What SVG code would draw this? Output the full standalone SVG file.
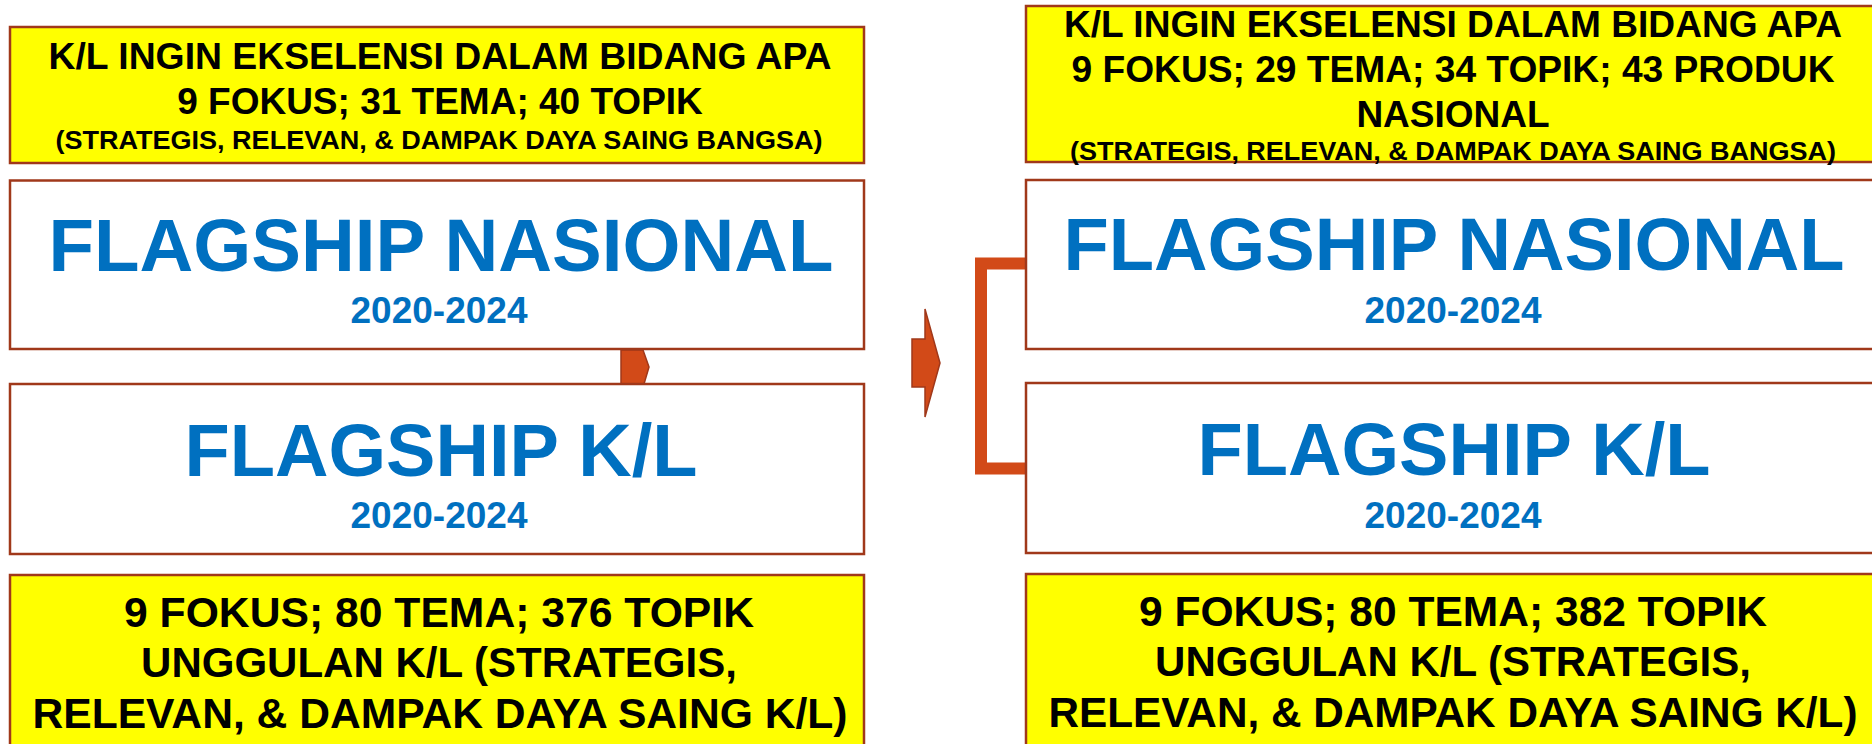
<svg xmlns="http://www.w3.org/2000/svg" width="1872" height="744" viewBox="0 0 1872 744">
  <defs>
    <style>
      .box { stroke: #A0381A; stroke-width: 2.5; }
      .yellow { fill: #FFFF00; }
      .white { fill: #FFFFFF; }
      .dark { font-family: "Liberation Sans", Arial, Helvetica, sans-serif; font-weight: bold; fill: #000000; text-anchor: middle; }
      .blue { font-family: "Liberation Sans", Arial, Helvetica, sans-serif; font-weight: bold; fill: #0070C0; text-anchor: middle; }
      .t37 { font-size: 37px; }
      .t26 { font-size: 26.5px; }
      .t42 { font-size: 42px; }
      .big { font-size: 75px; }
      .year { font-size: 37px; }
      .arrow { fill: #D24A18; stroke: #A0381A; stroke-width: 1.5; stroke-linejoin: miter; }
      .bracket { fill: none; stroke: #D24A18; stroke-width: 12; stroke-linejoin: miter; }
    </style>
  </defs>
  <rect width="1872" height="744" fill="#FFFFFF"/>

  <!-- connectors: chevron between the left boxes, central arrow, bracket on the right -->
  <g id="connectors">
    <polygon class="arrow" points="621,350 643,350 649,367 644,384 621,384"/>
    <polygon class="arrow" points="912,339 925,339 925,309 940,363 925,417 925,387 912,387"/>
    <path class="bracket" d="M1027,263.5 H981 V468.5 H1027"/>
  </g>

  <!-- left column -->
  <g id="left-scope">
    <rect class="box yellow" x="10" y="27" width="854" height="136"/>
    <text class="dark t37" x="440" y="69" textLength="783" lengthAdjust="spacingAndGlyphs">K/L INGIN EKSELENSI DALAM BIDANG APA</text>
    <text class="dark t37" x="440" y="114">9 FOKUS; 31 TEMA; 40 TOPIK</text>
    <text class="dark t26" x="439" y="149" textLength="767" lengthAdjust="spacingAndGlyphs">(STRATEGIS, RELEVAN, &amp; DAMPAK DAYA SAING BANGSA)</text>
  </g>
  <g id="left-flagship-nasional">
    <rect class="box white" x="10" y="180.5" width="854" height="168.5"/>
    <text class="blue big" x="441" y="271" textLength="785" lengthAdjust="spacingAndGlyphs">FLAGSHIP NASIONAL</text>
    <text class="blue year" x="439" y="323">2020-2024</text>
  </g>
  <g id="left-flagship-kl">
    <rect class="box white" x="10" y="384" width="854" height="170"/>
    <text class="blue big" x="441" y="476" textLength="513" lengthAdjust="spacingAndGlyphs">FLAGSHIP K/L</text>
    <text class="blue year" x="439" y="528">2020-2024</text>
  </g>
  <g id="left-topics">
    <rect class="box yellow" x="10" y="575" width="854" height="185"/>
    <text class="dark t42" x="439" y="627" textLength="630" lengthAdjust="spacingAndGlyphs">9 FOKUS; 80 TEMA; 376 TOPIK</text>
    <text class="dark t42" x="439" y="677">UNGGULAN K/L (STRATEGIS,</text>
    <text class="dark t42" x="440" y="728" textLength="815" lengthAdjust="spacingAndGlyphs">RELEVAN, &amp; DAMPAK DAYA SAING K/L)</text>
  </g>

  <!-- right column -->
  <g id="right-scope">
    <rect class="box yellow" x="1026" y="6" width="860" height="156"/>
    <text class="dark t37" x="1453" y="37" textLength="778" lengthAdjust="spacingAndGlyphs">K/L INGIN EKSELENSI DALAM BIDANG APA</text>
    <text class="dark t37" x="1453" y="82" textLength="763" lengthAdjust="spacingAndGlyphs">9 FOKUS; 29 TEMA; 34 TOPIK; 43 PRODUK</text>
    <text class="dark t37" x="1453" y="127">NASIONAL</text>
    <text class="dark t26" x="1453" y="160" textLength="766" lengthAdjust="spacingAndGlyphs">(STRATEGIS, RELEVAN, &amp; DAMPAK DAYA SAING BANGSA)</text>
  </g>
  <g id="right-flagship-nasional">
    <rect class="box white" x="1026" y="180" width="860" height="169"/>
    <text class="blue big" x="1454" y="270" textLength="781" lengthAdjust="spacingAndGlyphs">FLAGSHIP NASIONAL</text>
    <text class="blue year" x="1453" y="323">2020-2024</text>
  </g>
  <g id="right-flagship-kl">
    <rect class="box white" x="1026" y="383" width="860" height="170"/>
    <text class="blue big" x="1454" y="475" textLength="513" lengthAdjust="spacingAndGlyphs">FLAGSHIP K/L</text>
    <text class="blue year" x="1453" y="528">2020-2024</text>
  </g>
  <g id="right-topics">
    <rect class="box yellow" x="1026" y="574" width="860" height="186"/>
    <text class="dark t42" x="1453" y="626" textLength="628" lengthAdjust="spacingAndGlyphs">9 FOKUS; 80 TEMA; 382 TOPIK</text>
    <text class="dark t42" x="1453" y="676">UNGGULAN K/L (STRATEGIS,</text>
    <text class="dark t42" x="1453" y="727" textLength="809" lengthAdjust="spacingAndGlyphs">RELEVAN, &amp; DAMPAK DAYA SAING K/L)</text>
  </g>
</svg>
